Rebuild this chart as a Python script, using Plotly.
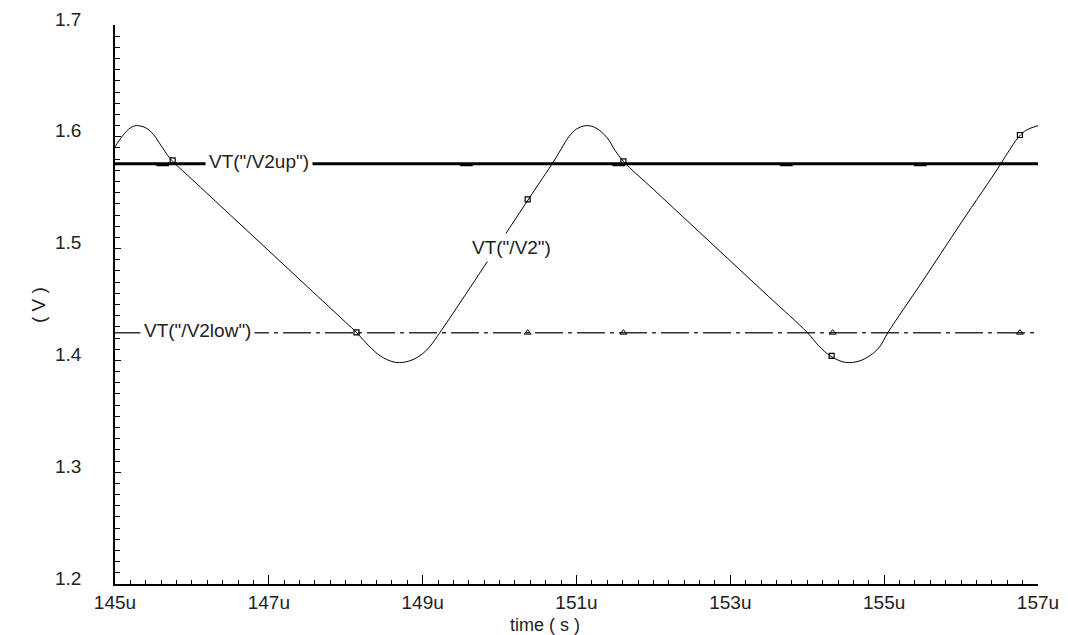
import plotly.graph_objects as go

# ---- data (time in microseconds, voltage in V) ----
v2_time = [145.0, 145.1, 145.2, 145.28, 145.4, 145.5, 145.6, 145.7, 145.78,
           146.0, 146.5, 147.0, 147.5, 148.0, 148.14, 148.3, 148.45, 148.6, 148.7,
           148.85, 149.0, 149.1, 149.225, 149.5, 150.0, 150.5, 150.685, 150.8,
           150.9, 151.0, 151.13, 151.25, 151.4, 151.5, 151.61, 152.0, 152.5,
           153.0, 153.5, 154.0, 154.15, 154.3, 154.45, 154.55, 154.7, 154.85,
           154.95, 155.05, 155.5, 156.0, 156.5, 156.6, 156.75, 156.85, 157.0]
v2_volt = [1.591, 1.601, 1.608, 1.610, 1.608, 1.602, 1.592, 1.582, 1.576,
           1.562, 1.530, 1.498, 1.466, 1.434, 1.425, 1.413, 1.404, 1.399, 1.398,
           1.400, 1.406, 1.413, 1.425, 1.453, 1.505, 1.557, 1.576, 1.589,
           1.600, 1.607, 1.610, 1.608, 1.599, 1.588, 1.578, 1.553, 1.521,
           1.489, 1.457, 1.425, 1.413, 1.404, 1.399, 1.398, 1.400, 1.406,
           1.413, 1.425, 1.471, 1.523, 1.574, 1.585, 1.600, 1.606, 1.610]

v2_marker_time = [145.75, 148.14, 150.365, 151.61, 154.317, 156.765]
v2_marker_volt = [1.579, 1.425, 1.544, 1.578, 1.404, 1.6016]

v2up_time = [145.0, 157.0]
v2up_volt = [1.576, 1.576]
v2up_marker_time = [145.62, 149.57, 151.55, 153.73, 155.47]

v2low_time = [145.0, 157.0]
v2low_volt = [1.4248, 1.4248]
v2low_marker_time = [150.365, 151.61, 154.33, 156.765]

x_tick_vals = [145, 147, 149, 151, 153, 155, 157]
x_tick_text = ["145u", "147u", "149u", "151u", "153u", "155u", "157u"]
y_tick_vals = [1.2, 1.3, 1.4, 1.5, 1.6, 1.7]
y_tick_text = ["1.2", "1.3", "1.4", "1.5", "1.6", "1.7"]

labels = ['VT("/V2up")', 'VT("/V2low")', 'VT("/V2")']
label_pos_x = [146.87, 146.07, 150.16]
label_pos_y = [1.578, 1.4265, 1.501]

FONT = "Liberation Sans, Arial, sans-serif"

fig = go.Figure()

fig.add_trace(go.Scatter(x=v2up_time, y=v2up_volt, mode="lines",
                         line=dict(color="black", width=3), hoverinfo="skip"))
fig.add_trace(go.Scatter(x=v2up_marker_time, y=[v2up_volt[0] - 0.001] * len(v2up_marker_time),
                         mode="markers",
                         marker=dict(symbol="line-ew", size=9, line=dict(color="black", width=3)),
                         hoverinfo="skip"))

fig.add_trace(go.Scatter(x=v2low_time, y=v2low_volt, mode="lines",
                         line=dict(color="#333333", width=1.5, dash="28px,5px,4px,5px"),
                         hoverinfo="skip"))
fig.add_trace(go.Scatter(x=v2low_marker_time, y=[v2low_volt[0]] * len(v2low_marker_time),
                         mode="markers",
                         marker=dict(symbol="triangle-up-open", size=6, color="black",
                                     line=dict(color="black", width=1)),
                         hoverinfo="skip"))

fig.add_trace(go.Scatter(x=v2_time, y=v2_volt, mode="lines", line_shape="spline",
                         line=dict(color="black", width=1), hoverinfo="skip"))
fig.add_trace(go.Scatter(x=v2_marker_time, y=v2_marker_volt, mode="markers",
                         marker=dict(symbol="square-open", size=5, color="black",
                                     line=dict(color="black", width=1.2)),
                         hoverinfo="skip"))

for txt, lx, ly in zip(labels, label_pos_x, label_pos_y):
    fig.add_annotation(x=lx, y=ly, text=txt, showarrow=False,
                       font=dict(family=FONT, size=19, color="#222222"),
                       bgcolor="white", borderpad=3, xanchor="center", yanchor="middle")

fig.add_annotation(xref="paper", yref="paper", x=0.466, y=-0.0725, text="time ( s )",
                   showarrow=False, font=dict(family=FONT, size=18, color="#222222"),
                   xanchor="center", yanchor="middle")
fig.add_annotation(xref="paper", yref="paper", x=-0.0834, y=0.499, text="( V )",
                   textangle=-90, showarrow=False,
                   font=dict(family=FONT, size=19, color="#222222"),
                   xanchor="center", yanchor="middle")

# page body has an 8px margin, so the figure is sized and offset to compensate
fig.update_layout(
    width=1060, height=627,
    margin=dict(l=107, r=30, t=17, b=51, autoexpand=False),
    paper_bgcolor="white", plot_bgcolor="white",
    showlegend=False,
    font=dict(family=FONT, size=19, color="#222222"),
)
fig.update_xaxes(range=[145, 157], tickvals=x_tick_vals, ticktext=x_tick_text,
                 automargin=False,
                 ticks="inside", ticklen=9, tickwidth=1, tickcolor="black",
                 showline=True, linecolor="black", linewidth=1.5,
                 showgrid=False, zeroline=False, ticklabelstandoff=0,
                 minor=dict(dtick=0.2, tick0=145, ticks="inside", ticklen=4,
                            tickcolor="black", tickwidth=1, showgrid=False))
fig.update_yaxes(range=[1.2, 1.7], tickvals=y_tick_vals, ticktext=y_tick_text,
                 automargin=False,
                 ticks="inside", ticklen=6, tickwidth=1, tickcolor="black",
                 showline=True, linecolor="black", linewidth=1.5,
                 showgrid=False, zeroline=False, ticklabelstandoff=28,
                 ticklabelshift=-6,
                 minor=dict(dtick=0.01, tick0=1.2, ticks="inside", ticklen=5,
                            tickcolor="black", tickwidth=1, showgrid=False))

fig.write_html("out.html")
